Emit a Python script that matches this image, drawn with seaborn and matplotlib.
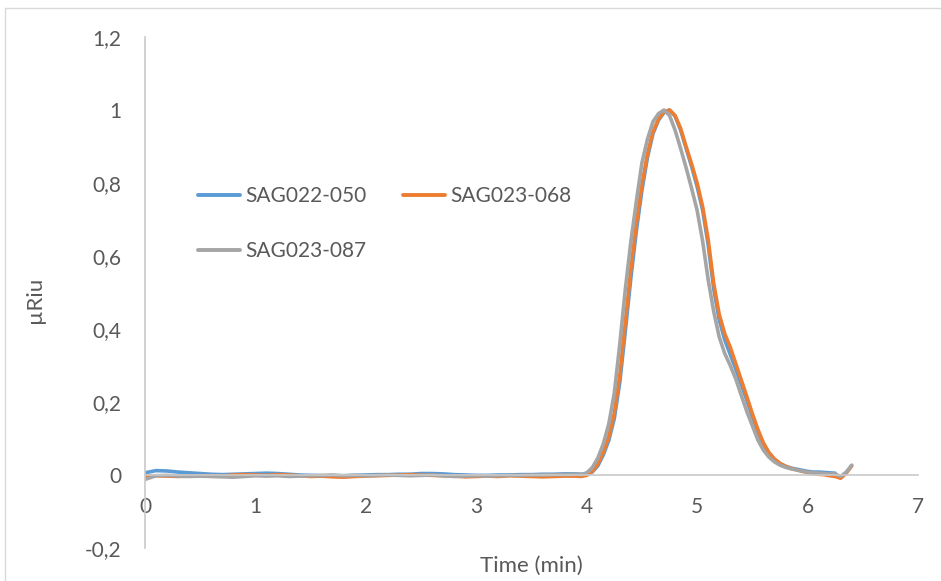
import numpy as np
import pandas as pd
import matplotlib
matplotlib.use("Agg")
import matplotlib.pyplot as plt
import matplotlib.patches as mpatches
import seaborn as sns

# ---------------- data ----------------
time_base = [0.0, 0.1, 0.2, 0.3, 0.4, 0.5, 0.6, 0.7, 0.8, 0.9,
             1.0, 1.1, 1.2, 1.3, 1.4, 1.5, 1.6, 1.7, 1.8, 1.9,
             2.0, 2.1, 2.2, 2.3, 2.4, 2.5, 2.6, 2.7, 2.8, 2.9,
             3.0, 3.1, 3.2, 3.3, 3.4, 3.5, 3.6, 3.7, 3.8]
time_peak = [3.90, 3.95, 4.00, 4.05, 4.10, 4.15, 4.20, 4.25, 4.30, 4.35,
             4.40, 4.45, 4.50, 4.55, 4.60, 4.65, 4.70, 4.75, 4.80, 4.85,
             4.90, 4.95, 5.00, 5.05, 5.10, 5.15, 5.20, 5.25, 5.30, 5.35,
             5.40, 5.45, 5.50, 5.55, 5.60, 5.65, 5.70, 5.75, 5.80, 5.85,
             5.90, 5.95, 6.00, 6.05, 6.10, 6.15, 6.20, 6.25, 6.30, 6.35,
             6.40]

sag022_050_base = [0.006, 0.012, 0.011, 0.008, 0.006, 0.004, 0.002, 0.001, 0.002, 0.003,
                   0.004, 0.005, 0.004, 0.002, 0.000, -0.001, -0.002, -0.003, -0.002, -0.001,
                   0.000, 0.001, 0.001, 0.002, 0.002, 0.004, 0.004, 0.003, 0.001, 0.000,
                   -0.001, -0.001, 0.000, 0.000, 0.001, 0.001, 0.002, 0.002, 0.003]
sag022_050_peak = [0.003, 0.002, 0.002, 0.008, 0.025, 0.055, 0.095, 0.155, 0.255, 0.395,
                   0.540, 0.670, 0.780, 0.870, 0.935, 0.972, 0.993, 1.000, 0.983, 0.945,
                   0.895, 0.845, 0.790, 0.725, 0.630, 0.510, 0.425, 0.370, 0.330, 0.290,
                   0.248, 0.205, 0.160, 0.118, 0.083, 0.058, 0.042, 0.031, 0.024, 0.019,
                   0.016, 0.013, 0.010, 0.008, 0.008, 0.007, 0.006, 0.005, np.nan, np.nan,
                   np.nan]

sag023_068_base = [-0.004, -0.002, -0.003, -0.004, -0.003, -0.002, -0.002, -0.003, 0.000, 0.001,
                   0.000, -0.001, 0.001, 0.000, -0.002, -0.004, -0.003, -0.005, -0.006, -0.004,
                   -0.003, -0.002, -0.001, 0.000, 0.001, 0.000, -0.001, -0.002, -0.003, -0.005,
                   -0.004, -0.003, -0.004, -0.002, -0.003, -0.004, -0.005, -0.004, -0.003]
sag023_068_peak = [-0.003, -0.004, -0.001, 0.010, 0.030, 0.062, 0.105, 0.170, 0.275, 0.420,
                   0.565, 0.690, 0.795, 0.880, 0.940, 0.975, 0.995, 1.000, 0.985, 0.950,
                   0.900, 0.852, 0.800, 0.735, 0.645, 0.525, 0.440, 0.387, 0.350, 0.305,
                   0.260, 0.215, 0.168, 0.125, 0.088, 0.062, 0.044, 0.032, 0.024, 0.018,
                   0.014, 0.010, 0.007, 0.004, 0.002, 0.001, -0.002, -0.004, -0.009, 0.005,
                   0.025]

sag023_087_base = [-0.012, -0.002, -0.001, -0.003, -0.004, -0.003, -0.004, -0.005, -0.006, -0.004,
                   -0.002, -0.003, -0.002, -0.004, -0.003, -0.002, -0.001, 0.000, -0.002, -0.001,
                   -0.002, -0.001, 0.000, -0.001, -0.002, -0.001, 0.000, -0.002, -0.004, -0.003,
                   -0.002, -0.003, -0.002, -0.001, -0.001, 0.000, 0.000, 0.001, 0.001]
sag023_087_peak = [0.002, 0.001, 0.006, 0.020, 0.046, 0.085, 0.140, 0.225, 0.360, 0.510,
                   0.640, 0.751, 0.855, 0.920, 0.968, 0.990, 1.000, 0.985, 0.945, 0.895,
                   0.842, 0.785, 0.725, 0.640, 0.535, 0.448, 0.378, 0.333, 0.300, 0.263,
                   0.218, 0.174, 0.135, 0.096, 0.068, 0.049, 0.036, 0.027, 0.021, 0.017,
                   0.014, 0.011, 0.008, 0.006, 0.005, 0.004, 0.003, 0.003, -0.004, 0.008,
                   0.027]

series_names = ["SAG022-050", "SAG023-068", "SAG023-087"]
series_colors = ["#5B9BD5", "#ED7D31", "#A5A5A5"]
x_ticks = [0, 1, 2, 3, 4, 5, 6, 7]
y_ticks = [-0.2, 0, 0.2, 0.4, 0.6, 0.8, 1.0, 1.2]
y_tick_labels = ["-0,2", "0", "0,2", "0,4", "0,6", "0,8", "1", "1,2"]

# ---------------- build long-form table ----------------
times = time_base + time_peak
frames = []
for name, base, peak in [
    ("SAG022-050", sag022_050_base, sag022_050_peak),
    ("SAG023-068", sag023_068_base, sag023_068_peak),
    ("SAG023-087", sag023_087_base, sag023_087_peak),
]:
    frames.append(pd.DataFrame({"Time": times, "uRiu": base + peak, "Sample": name}))
df = pd.concat(frames, ignore_index=True).dropna()

# ---------------- figure ----------------
sns.set_theme(style="white")
plt.rcParams["font.family"] = ["Lato", "DejaVu Sans"]
text_color = "#595959"
axis_color = "#c9c9c9"

W, H = 941, 581
fig = plt.figure(figsize=(W / 100, H / 100), dpi=100)
ax = fig.add_axes([145 / W, (H - 548) / H, (918 - 145) / W, (548 - 37) / H])

sns.lineplot(data=df, x="Time", y="uRiu", hue="Sample", hue_order=series_names,
             palette=dict(zip(series_names, series_colors)), estimator=None,
             sort=False, linewidth=2.6, ax=ax, legend=False)

ax.set_xlim(0, 7)
ax.set_ylim(-0.2, 1.2)
ax.set_xticks(x_ticks)
ax.set_xticklabels([str(v) for v in x_ticks])
ax.set_yticks(y_ticks)
ax.set_yticklabels(y_tick_labels)
ax.set_xlabel("")
ax.set_ylabel("")

for s in ["top", "right"]:
    ax.spines[s].set_visible(False)
ax.spines["bottom"].set_position(("data", 0))
for s in ["left", "bottom"]:
    ax.spines[s].set_color(axis_color)
    ax.spines[s].set_linewidth(1.2)
ax.tick_params(axis="both", length=0, labelsize=15, colors=text_color)
ax.tick_params(axis="x", pad=16)
ax.tick_params(axis="y", pad=17)
ax.grid(False)

# legend (row-wise like Excel)
handles = [plt.Line2D([], [], color=c, lw=2.8, solid_capstyle="round") for c in series_colors]
order = [0, 2, 1]
leg = fig.legend([handles[i] for i in order], [series_names[i] for i in order],
                 ncol=2, frameon=False, loc="upper left",
                 bbox_to_anchor=(188 / W, 1 - 176 / H),
                 fontsize=15, handlelength=2.0, handletextpad=0.25,
                 columnspacing=1.75, labelspacing=1.68, borderpad=0)
for t in leg.get_texts():
    t.set_color(text_color)

fig.text(531.5 / W, 1 - 566 / H, "Time (min)", ha="center", va="center",
         fontsize=16, color=text_color)
fig.text(35 / W, 1 - 300 / H, "µRiu", ha="center", va="center", rotation=90,
         fontsize=16, color=text_color)

# chart-area border like Excel
border = mpatches.Rectangle((5 / W, -0.1), 1.2, 0.1 + (H - 8) / H,
                            transform=fig.transFigure, fill=False,
                            edgecolor="#d9d9d9", lw=1.0, clip_on=False)
fig.patches.append(border)

fig.savefig("out.png", dpi=100)
